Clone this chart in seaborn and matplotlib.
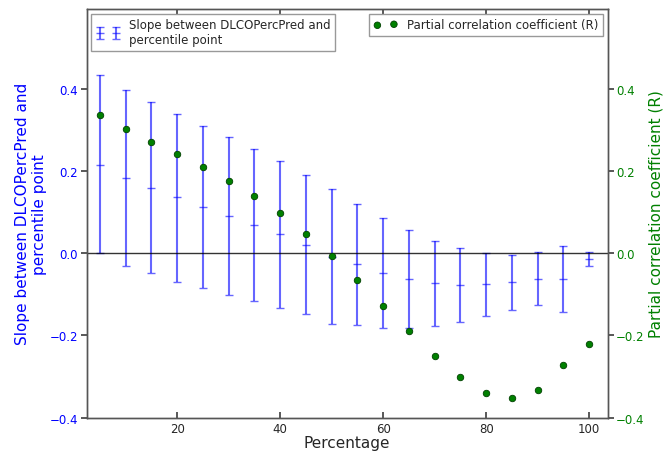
import numpy as np
import pandas as pd
import matplotlib
matplotlib.use("Agg")
import matplotlib.pyplot as plt
import seaborn as sns

# данные
percentage = [5, 10, 15, 20, 25, 30, 35, 40, 45, 50,
              55, 60, 65, 70, 75, 80, 85, 90, 95, 100]
slope = [0.216, 0.184, 0.159, 0.136, 0.113, 0.091, 0.069, 0.046, 0.021, -0.008,
         -0.027, -0.048, -0.062, -0.072, -0.078, -0.076, -0.070, -0.062, -0.063, -0.013]
slope_low = [0.000, -0.030, -0.049, -0.069, -0.084, -0.101, -0.117, -0.133, -0.148, -0.172,
             -0.175, -0.182, -0.182, -0.176, -0.167, -0.152, -0.138, -0.126, -0.144, -0.030]
slope_high = [0.434, 0.397, 0.369, 0.339, 0.311, 0.283, 0.255, 0.225, 0.190, 0.156,
              0.121, 0.086, 0.057, 0.031, 0.012, 0.000, -0.003, 0.003, 0.018, 0.003]
partial_r = [0.337, 0.302, 0.271, 0.242, 0.210, 0.177, 0.140, 0.097, 0.048, -0.006,
             -0.065, -0.128, -0.190, -0.251, -0.301, -0.339, -0.353, -0.334, -0.271, -0.220]

df = pd.DataFrame({"Percentage": percentage, "slope": slope,
                   "low": slope_low, "high": slope_high, "R": partial_r})

sns.set_theme(style="white")
plt.rcParams["font.family"] = ["DejaVu Sans"]

fig = plt.figure(figsize=(6.66, 4.52), dpi=100)
ax = fig.add_axes([0.130, 0.074, 0.7825, 0.904])

yerr = [df["slope"] - df["low"], df["high"] - df["slope"]]
ax.errorbar(df["Percentage"], df["slope"], yerr=yerr, fmt="_", color="blue",
            ecolor="blue", alpha=0.6, elinewidth=1.5, capsize=3, markersize=6,
            label="Slope between DLCOPercPred and\npercentile point")
ax.axhline(0, color="black", lw=1, alpha=0.8)

ax2 = ax.twinx()
sns.scatterplot(data=df, x="Percentage", y="R", ax=ax2, color="green",
                edgecolor="#004000", s=22, linewidth=0.6,
                label="Partial correlation coefficient (R)")

for a in (ax, ax2):
    a.set_xlim(2.4, 103.6)
    a.set_ylim(-0.4, 0.595)
    a.set_yticks([-0.4, -0.2, 0.0, 0.2, 0.4])

ax.set_xticks([20, 40, 60, 80, 100])
ax.set_xlabel("Percentage", fontsize=11, labelpad=0)
ax.set_ylabel("Slope between DLCOPercPred and\npercentile point", color="blue",
              fontsize=11, labelpad=2)
ax2.set_ylabel("Partial correlation coefficient (R)", color="green", fontsize=11,
               labelpad=3)
ax.tick_params(axis="y", colors="blue", labelsize=8.5, direction="out", length=4, pad=2)
ax.tick_params(axis="x", labelsize=8.5, direction="in", length=4, top=True, bottom=True,
               color="#444444", pad=3)
ax.yaxis.set_tick_params(color="#444444")
ax2.tick_params(axis="y", colors="green", labelsize=8.5, direction="out", length=4, pad=2)
ax2.yaxis.set_tick_params(color="#444444")

for a in (ax, ax2):
    for sp in a.spines.values():
        sp.set_color("#555555")
        sp.set_linewidth(1)

ax.legend(loc="upper left", fontsize=8.5, numpoints=2, fancybox=False,
          edgecolor="#999999", framealpha=1, borderaxespad=0.4)
ax2.legend(loc="upper right", fontsize=8.5, scatterpoints=2, fancybox=False,
           edgecolor="#999999", framealpha=1, borderaxespad=0.4)

fig.savefig("out.png", dpi=100)
